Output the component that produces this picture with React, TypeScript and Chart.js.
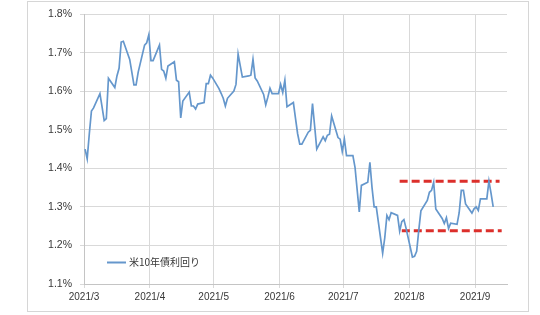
import { useEffect, useRef } from 'react';
import { Chart, registerables } from 'chart.js';

Chart.register(...registerables);

const seriesLabel = '米10年債利回り';

const dates = [
  '2021-03-01','2021-03-02','2021-03-03','2021-03-04','2021-03-05','2021-03-08','2021-03-09','2021-03-10','2021-03-11','2021-03-12',
  '2021-03-15','2021-03-16','2021-03-17','2021-03-18','2021-03-19','2021-03-22','2021-03-23','2021-03-24','2021-03-25','2021-03-26',
  '2021-03-29','2021-03-30','2021-03-31','2021-04-01','2021-04-02','2021-04-05','2021-04-06','2021-04-07','2021-04-08','2021-04-09',
  '2021-04-12','2021-04-13','2021-04-14','2021-04-15','2021-04-16','2021-04-19','2021-04-20','2021-04-21','2021-04-22','2021-04-23',
  '2021-04-26','2021-04-27','2021-04-28','2021-04-29','2021-04-30','2021-05-03','2021-05-04','2021-05-05','2021-05-06','2021-05-07',
  '2021-05-10','2021-05-11','2021-05-12','2021-05-13','2021-05-14','2021-05-17','2021-05-18','2021-05-19','2021-05-20','2021-05-21',
  '2021-05-24','2021-05-25','2021-05-26','2021-05-27','2021-05-28','2021-05-31','2021-06-01','2021-06-02','2021-06-03','2021-06-04',
  '2021-06-07','2021-06-08','2021-06-09','2021-06-10','2021-06-11','2021-06-14','2021-06-15','2021-06-16','2021-06-17','2021-06-18',
  '2021-06-21','2021-06-22','2021-06-23','2021-06-24','2021-06-25','2021-06-28','2021-06-29','2021-06-30','2021-07-01','2021-07-02',
  '2021-07-05','2021-07-06','2021-07-07','2021-07-08','2021-07-09','2021-07-12','2021-07-13','2021-07-14','2021-07-15','2021-07-16',
  '2021-07-19','2021-07-20','2021-07-21','2021-07-22','2021-07-23','2021-07-26','2021-07-27','2021-07-28','2021-07-29','2021-07-30',
  '2021-08-02','2021-08-03','2021-08-04','2021-08-05','2021-08-06','2021-08-09','2021-08-10','2021-08-11','2021-08-12','2021-08-13',
  '2021-08-16','2021-08-17','2021-08-18','2021-08-19','2021-08-20','2021-08-23','2021-08-24','2021-08-25','2021-08-26','2021-08-27',
  '2021-08-30','2021-08-31','2021-09-01','2021-09-02','2021-09-03','2021-09-06','2021-09-07','2021-09-08','2021-09-09',
];

const yields = [
  1.45, 1.425, 1.49, 1.549, 1.557, 1.594, 1.56, 1.524, 1.529, 1.634,
  1.61, 1.64, 1.66, 1.728, 1.73, 1.683, 1.65, 1.617, 1.617, 1.65,
  1.72, 1.726, 1.747, 1.68, 1.68, 1.72, 1.657, 1.653, 1.634, 1.666,
  1.677, 1.629, 1.625, 1.531, 1.575, 1.598, 1.562, 1.562, 1.554, 1.567,
  1.571, 1.62, 1.62, 1.642, 1.635, 1.607, 1.595, 1.582, 1.562, 1.582,
  1.601, 1.618, 1.697, 1.667, 1.637, 1.64, 1.642, 1.683, 1.635, 1.627,
  1.592, 1.565, 1.585, 1.608, 1.594, 1.594, 1.618, 1.597, 1.629, 1.56,
  1.571, 1.53, 1.49, 1.463, 1.463, 1.494, 1.499, 1.568, 1.51, 1.45,
  1.482, 1.472, 1.486, 1.489, 1.536, 1.48, 1.476, 1.444, 1.476, 1.433,
  1.433, 1.403, 1.345, 1.287, 1.356, 1.364, 1.416, 1.35, 1.30, 1.30,
  1.18, 1.22, 1.278, 1.267, 1.285, 1.278, 1.237, 1.262, 1.267, 1.245,
  1.17, 1.172, 1.185, 1.24, 1.29, 1.317, 1.338, 1.343, 1.364, 1.295,
  1.27, 1.257, 1.272, 1.244, 1.258, 1.255, 1.285, 1.343, 1.343, 1.308,
  1.284, 1.295, 1.30, 1.291, 1.321, 1.321, 1.367, 1.335, 1.30,
];

const monthTickDates = ['2021-03-01','2021-04-01','2021-05-01','2021-06-01','2021-07-01','2021-08-01','2021-09-01'];
const monthTickLabels = ['2021/3','2021/4','2021/5','2021/6','2021/7','2021/8','2021/9'];

const axisStartDate = '2021-03-01';
const axisEndDate = '2021-09-16';
const yMin = 1.1;
const yMax = 1.8;
const yStep = 0.1;

const upperBandDates = ['2021-07-27', '2021-09-12'];
const upperBandValues = [1.367, 1.367];
const lowerBandDates = ['2021-07-28', '2021-09-13'];
const lowerBandValues = [1.238, 1.238];

const LINE_COLOR = '#6597cc';
const BAND_COLOR = '#dc2f2b';
const GRID_COLOR = '#d9d9d9';
const TEXT_COLOR = '#383838';
const TICK_FONT = { family: "'Liberation Sans', Arial, sans-serif", size: 10 };

function dayIndex(s: string): number {
  const [y, m, d] = s.split('-').map(Number);
  const [y0, m0, d0] = axisStartDate.split('-').map(Number);
  return (Date.UTC(y, m - 1, d) - Date.UTC(y0, m0 - 1, d0)) / 86400000;
}

const framePlugin = {
  id: 'frame',
  beforeDraw(chart: any) {
    const ctx = chart.ctx;
    ctx.save();
    ctx.fillStyle = '#ffffff';
    ctx.fillRect(0, 0, chart.width, chart.height);
    ctx.strokeStyle = '#d6d6d6';
    ctx.lineWidth = 1;
    ctx.strokeRect(27.5, 1.5, 501, 310);
    ctx.restore();
  },
};

const insideLegendPlugin = {
  id: 'insideLegend',
  afterDraw(chart: any) {
    const { ctx, chartArea } = chart;
    const x0 = chartArea.left + 23;
    const y0 = chartArea.bottom - 21.5;
    ctx.save();
    ctx.strokeStyle = LINE_COLOR;
    ctx.lineWidth = 2;
    ctx.beginPath();
    ctx.moveTo(x0, y0);
    ctx.lineTo(x0 + 19, y0);
    ctx.stroke();
    ctx.fillStyle = TEXT_COLOR;
    ctx.font = "10px 'Noto Sans CJK JP', sans-serif";
    ctx.textBaseline = 'middle';
    ctx.textAlign = 'left';
    ctx.fillText(seriesLabel, x0 + 22, y0);
    ctx.restore();
  },
};

export default function App() {
  const canvasRef = useRef<HTMLCanvasElement | null>(null);

  useEffect(() => {
    document.body.style.margin = '0';
    const canvas = canvasRef.current;
    if (!canvas) return;

    const mainPoints = dates.map((d, i) => ({ x: dayIndex(d) + 0.5, y: yields[i] }));
    const upperPoints = upperBandDates.map((d, i) => ({ x: dayIndex(d) + 0.5, y: upperBandValues[i] }));
    const lowerPoints = lowerBandDates.map((d, i) => ({ x: dayIndex(d) + 0.5, y: lowerBandValues[i] }));

    const chart = new Chart(canvas, {
      type: 'line',
      data: {
        datasets: [
          {
            label: seriesLabel,
            data: mainPoints,
            borderColor: LINE_COLOR,
            borderWidth: 1.7,
            pointRadius: 0,
            tension: 0,
            fill: false,
          },
          {
            label: 'upper',
            data: upperPoints,
            borderColor: BAND_COLOR,
            borderWidth: 3,
            borderDash: [8, 4],
            pointRadius: 0,
            fill: false,
          },
          {
            label: 'lower',
            data: lowerPoints,
            borderColor: BAND_COLOR,
            borderWidth: 3,
            borderDash: [8, 4],
            pointRadius: 0,
            fill: false,
          },
        ],
      },
      options: {
        responsive: false,
        animation: false,
        layout: { padding: { left: 0, right: 33, top: 13, bottom: 0 } },
        plugins: {
          legend: { display: false },
          tooltip: { enabled: false },
        },
        scales: {
          x: {
            type: 'linear',
            min: dayIndex(axisStartDate),
            max: dayIndex(axisEndDate),
            afterBuildTicks: (scale: any) => {
              scale.ticks = monthTickDates.map((d) => ({ value: dayIndex(d) }));
            },
            afterFit: (scale: any) => {
              scale.height = 31;
            },
            ticks: {
              autoSkip: false,
              maxRotation: 0,
              padding: 3,
              color: TEXT_COLOR,
              font: TICK_FONT,
              callback: (_v: any, i: number) => monthTickLabels[i],
            },
            grid: { color: GRID_COLOR, tickLength: 4, tickColor: GRID_COLOR },
            border: { color: '#c4c4c4' },
          },
          y: {
            min: yMin,
            max: yMax,
            afterFit: (scale: any) => {
              scale.width = 84;
            },
            ticks: {
              stepSize: yStep,
              padding: 8,
              color: TEXT_COLOR,
              font: { ...TICK_FONT, size: 10.5 },
              callback: (v: any) => Number(v).toFixed(1) + '%',
            },
            grid: { color: GRID_COLOR, tickLength: 4, tickColor: GRID_COLOR },
            border: { color: '#c4c4c4' },
          },
        },
      },
      plugins: [framePlugin, insideLegendPlugin],
    });

    return () => chart.destroy();
  }, []);

  return <canvas ref={canvasRef} width={540} height={315} style={{ display: 'block' }} />;
}
